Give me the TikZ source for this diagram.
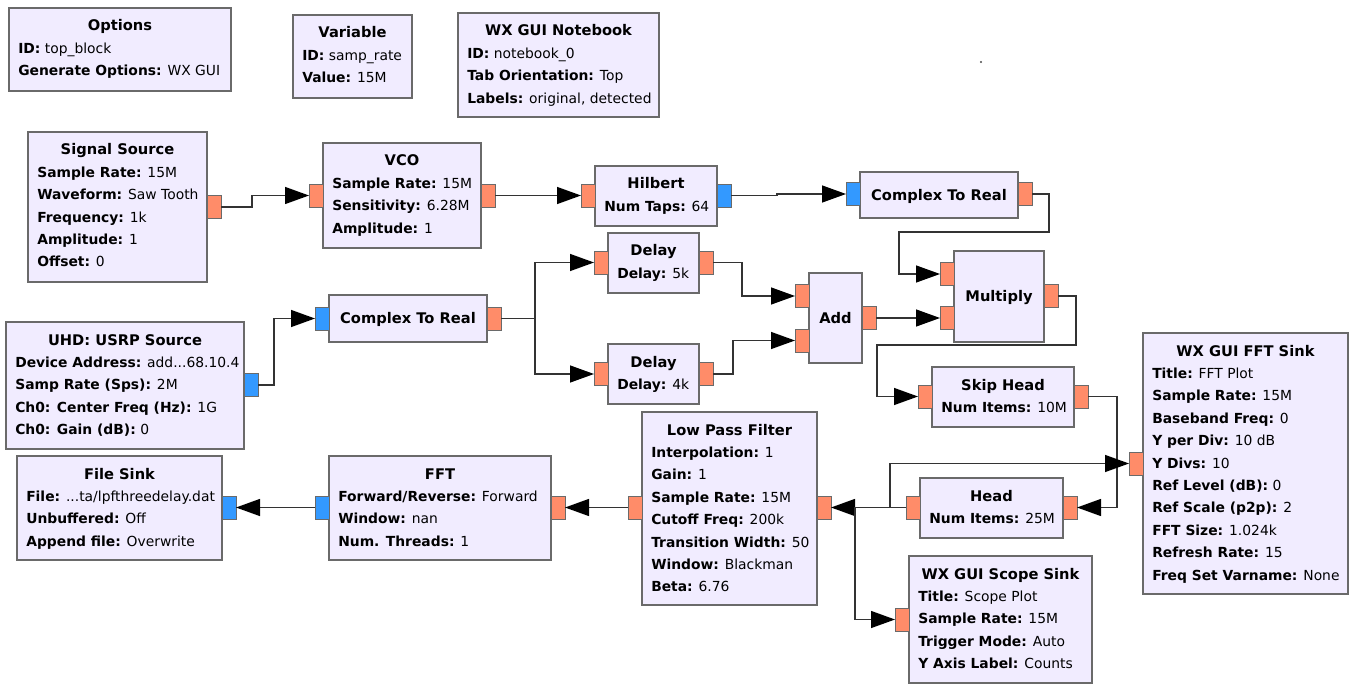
\documentclass[tikz,border=0pt]{standalone}
\usepackage{fontspec}
\setmainfont{DejaVu Sans}
\usetikzlibrary{arrows.meta}
\definecolor{blockfill}{HTML}{F1ECFF}
\definecolor{blockline}{HTML}{6A6A6A}
\definecolor{floatc}{HTML}{FF8C69}
\definecolor{cplxc}{HTML}{3399FF}
\definecolor{wirec}{HTML}{333333}
\newcommand\mydots{...}
\tikzset{
  blk/.style={draw=blockline, fill=blockfill, line width=0.9pt, inner sep=0pt, outer sep=0pt},
  ttl/.style={inner sep=0pt, font=\fontsize{11}{13}\selectfont\bfseries, text=black},
  prm/.style={inner sep=0pt, font=\fontsize{10.4}{12}\selectfont, text=black},
  port/.style={draw=blockline, line width=0.6pt, minimum width=10.5pt, minimum height=17.25pt, inner sep=0pt, outer sep=0pt},
  wire/.style={draw=wirec, line width=1pt, -{Triangle[length=18pt,width=12.75pt,color=black]}},
}
\newcommand\blk[7]{%
  \node[blk, anchor=north west, minimum width=#4*0.75pt, minimum height=#5*0.75pt] (#1) at (#2,#3) {};
  \node[ttl, anchor=base] (#1-t) at (#2+#4/2,#3+23) {#6};
  \foreach \t [count=\i] in {#7} {\node[prm, anchor=base west] (#1-\i) at (#2+9,#3+23+22.4*\i) {\t};}
}
\newcommand\sblk[6]{%
  \node[blk, anchor=north west, minimum width=#4*0.75pt, minimum height=#5*0.75pt] (#1) at (#2,#3) {};
  \node[ttl, anchor=base] (#1-t) at ([yshift=-4pt]#1.center) {#6};
}
\newcommand\port[4]{\node[port, fill=#4, anchor=north west] (#1) at (#2,#3) {};}
\begin{document}
\begin{tikzpicture}[x=0.75pt, y=-0.75pt]
\fill[white] (0,0) rectangle (1352,684);
\useasboundingbox (0,0) rectangle (1352,684);

% top row
\blk{opt}{9}{8}{222}{83}{Options}{{\textbf{ID:} top\_block},{\textbf{Generate Options:} WX GUI}}
\blk{var}{293}{15}{119}{83}{Variable}{{\textbf{ID:} samp\_rate},{\textbf{Value:} 15M}}
\blk{nb}{458}{13}{201}{104}{WX GUI Notebook}{{\textbf{ID:} notebook\_0},{\textbf{Tab Orientation:} Top},{\textbf{Labels:} original, detected}}
\fill[black!70] (981,62) circle[radius=1.2];

% blocks
\blk{ss}{28}{132}{179}{150}{Signal Source}{{\textbf{Sample Rate:} 15M},{\textbf{Waveform:} Saw Tooth},{\textbf{Frequency:} 1k},{\textbf{Amplitude:} 1},{\textbf{Offset:} 0}}
\blk{vco}{323}{143}{158}{105}{VCO}{{\textbf{Sample Rate:} 15M},{\textbf{Sensitivity:} 6.28M},{\textbf{Amplitude:} 1}}
\blk{hil}{595}{166}{122}{60}{Hilbert}{{\textbf{Num Taps:} 64}}
\sblk{ctra}{860}{172}{158}{46}{Complex To Real}
\blk{dla}{608}{233}{91}{60}{Delay}{{\textbf{Delay:} 5k}}
\blk{dlb}{608}{344}{91}{60}{Delay}{{\textbf{Delay:} 4k}}
\sblk{add}{809}{273}{53}{90}{Add}
\sblk{mul}{954}{251}{90}{91}{Multiply}
\sblk{ctrb}{329}{295}{158}{47}{Complex To Real}
\blk{usrp}{6}{322}{238}{127}{UHD: USRP Source}{{\textbf{Device Address:} add\mydots 68.10.4},{\textbf{Samp Rate (Sps):} 2M},{\textbf{Ch0: Center Freq (Hz):} 1G},{\textbf{Ch0: Gain (dB):} 0}}
\blk{skip}{932}{367}{142}{60}{Skip Head}{{\textbf{Num Items:} 10M}}
\blk{fsk}{1143}{333}{205}{261}{WX GUI FFT Sink}{{\textbf{Title:} FFT Plot},{\textbf{Sample Rate:} 15M},{\textbf{Baseband Freq:} 0},{\textbf{Y per Div:} 10 dB},{\textbf{Y Divs:} 10},{\textbf{Ref Level (dB):} 0},{\textbf{Ref Scale (p2p):} 2},{\textbf{FFT Size:} 1.024k},{\textbf{Refresh Rate:} 15},{\textbf{Freq Set Varname:} None}}
\blk{head}{920}{478}{143}{60}{Head}{{\textbf{Num Items:} 25M}}
\blk{lpf}{642}{412}{175}{193}{Low Pass Filter}{{\textbf{Interpolation:} 1},{\textbf{Gain:} 1},{\textbf{Sample Rate:} 15M},{\textbf{Cutoff Freq:} 200k},{\textbf{Transition Width:} 50},{\textbf{Window:} Blackman},{\textbf{Beta:} 6.76}}
\blk{fft}{329}{456}{222}{104}{FFT}{{\textbf{Forward/Reverse:} Forward},{\textbf{Window:} nan},{\textbf{Num. Threads:} 1}}
\blk{fis}{17}{456}{205}{104}{File Sink}{{\textbf{File:} \mydots ta/lpfthreedelay.dat},{\textbf{Unbuffered:} Off},{\textbf{Append file:} Overwrite}}
\blk{scope}{909}{556}{183}{127}{WX GUI Scope Sink}{{\textbf{Title:} Scope Plot},{\textbf{Sample Rate:} 15M},{\textbf{Trigger Mode:} Auto},{\textbf{Y Axis Label:} Counts}}

% ports
\port{ss-o}{207}{195.5}{floatc}
\port{vco-i}{309}{184}{floatc}
\port{vco-o}{481}{184}{floatc}
\port{hil-i}{581}{184}{floatc}
\port{hil-o}{717}{184}{cplxc}
\port{ctra-i}{846}{182.5}{cplxc}
\port{ctra-o}{1018}{182.5}{floatc}
\port{dla-i}{594}{251}{floatc}
\port{dla-o}{699}{251}{floatc}
\port{dlb-i}{594}{362.5}{floatc}
\port{dlb-o}{699}{362.5}{floatc}
\port{add-ia}{795}{284.5}{floatc}
\port{add-ib}{795}{329}{floatc}
\port{add-o}{862}{306.5}{floatc}
\port{mul-ia}{940}{262.5}{floatc}
\port{mul-ib}{940}{306.5}{floatc}
\port{mul-o}{1044}{284.5}{floatc}
\port{ctrb-i}{315}{307}{cplxc}
\port{ctrb-o}{487}{307}{floatc}
\port{usrp-o}{244}{373.5}{cplxc}
\port{skip-i}{918}{385}{floatc}
\port{skip-o}{1074}{385}{floatc}
\port{fsk-i}{1129}{452}{floatc}
\port{head-i}{1063}{496}{floatc}
\port{head-o}{906}{496}{floatc}
\port{lpf-i}{817}{496}{floatc}
\port{lpf-o}{628}{496}{floatc}
\port{fft-i}{551}{496}{floatc}
\port{fft-o}{315}{496}{cplxc}
\port{fis-i}{222}{496}{cplxc}
\port{scope-i}{895}{608}{floatc}

% connections
\draw[wire] (ss-o.east) -- ++(31,0) |- (vco-i.west);
\draw[wire] (vco-o.east) -- (hil-i.west);
\draw[wire] (hil-o.east) -- ++(46,0) |- (ctra-i.west);
\draw[wire] (ctra-o.east) -| (1049,232) -| (899,250) |- (mul-ia.west);
\draw[wire] (ctrb-o.east) -- ++(34,0) |- (dla-i.west);
\draw[wire] (ctrb-o.east) -- ++(34,0) |- (dlb-i.west);
\draw[wire] (dla-o.east) -- ++(29,0) |- (add-ia.west);
\draw[wire] (dlb-o.east) -- ++(20,0) |- (add-ib.west);
\draw[wire] (add-o.east) -- (mul-ib.west);
\draw[wire] (mul-o.east) -| (1076,345) -| (877,370) |- (skip-i.west);
\draw[wire] (skip-o.east) -- ++(29,0) |- (head-i.east);
\draw[wire] (head-o.west) -- (lpf-i.east);
\draw[wire] (head-o.west) -- ++(-16,0) |- (fsk-i.west);
\draw[wire] (head-o.west) -- ++(-51,0) |- (scope-i.west);
\draw[wire] (lpf-o.west) -- (fft-i.east);
\draw[wire] (fft-o.west) -- (fis-i.east);
\draw[wire] (usrp-o.east) -- ++(16,0) |- (ctrb-i.west);
\end{tikzpicture}
\end{document}
